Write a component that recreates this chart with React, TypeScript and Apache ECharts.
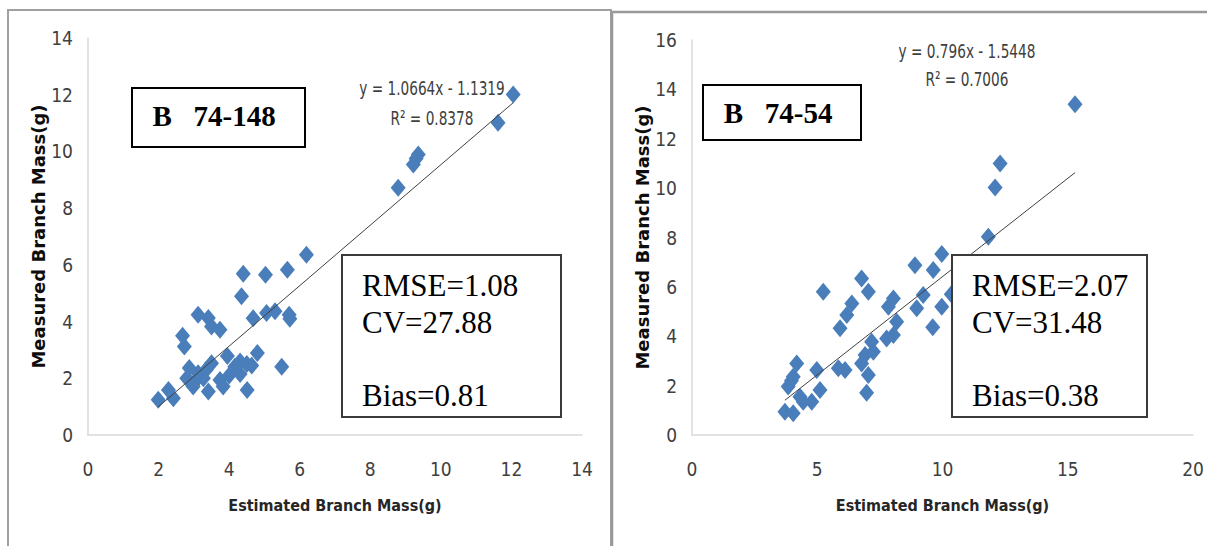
import { useEffect, useRef } from "react";
import * as echarts from "echarts";

// Left panel: B 74-148
const leftX = [1.99, 2.28, 2.42, 2.68, 2.73, 2.8, 2.87, 2.98, 3.05, 3.12, 3.12, 3.27, 3.35, 3.41, 3.41, 3.5, 3.5, 3.74, 3.74, 3.83, 3.95, 4.0, 4.16, 4.31, 4.31, 4.5, 4.64, 4.51, 4.35, 4.4, 4.68, 4.8, 5.03, 5.06, 5.3, 5.49, 5.65, 5.7, 5.72, 6.19, 8.79, 9.22, 9.3, 9.36, 11.62, 12.05];
const leftY = [1.24, 1.59, 1.3, 3.5, 3.12, 2.0, 2.36, 1.71, 1.9, 2.18, 4.24, 2.0, 2.3, 4.13, 1.53, 3.83, 2.53, 3.71, 1.94, 1.71, 2.79, 2.1, 2.41, 2.59, 2.15, 2.5, 2.45, 1.59, 4.89, 5.69, 4.12, 2.89, 5.65, 4.3, 4.36, 2.41, 5.83, 4.24, 4.1, 6.36, 8.72, 9.54, 9.75, 9.89, 11.01, 12.01];

// Right panel: B 74-54
const rightX = [3.71, 4.04, 3.84, 3.97, 4.04, 4.18, 4.31, 4.44, 4.78, 4.98, 5.11, 5.24, 5.84, 6.11, 5.91, 6.18, 6.38, 6.77, 7.04, 6.77, 6.91, 7.24, 7.17, 7.04, 6.97, 7.77, 8.04, 8.17, 7.84, 8.04, 8.97, 9.23, 8.9, 9.63, 9.97, 9.61, 9.97, 10.35, 11.83, 12.1, 12.3, 15.29];
const rightY = [0.94, 0.88, 1.96, 2.2, 2.36, 2.9, 1.55, 1.35, 1.35, 2.63, 1.82, 5.8, 2.7, 2.63, 4.32, 4.86, 5.33, 6.34, 5.8, 2.9, 3.24, 3.37, 3.78, 2.43, 1.71, 3.91, 4.05, 4.59, 5.19, 5.53, 5.13, 5.67, 6.88, 6.68, 7.33, 4.36, 5.19, 5.7, 8.03, 10.03, 11.0, 13.4];

// Trendline coefficients (from the chart's equations)
const leftSlope = 1.0664;
const leftIntercept = -1.1319;
const rightSlope = 0.796;
const rightIntercept = -1.5448;

const leftLabel = "B   74-148";
const rightLabel = "B   74-54";
const leftStats = ["RMSE=1.08", "CV=27.88", "Bias=0.81"];
const rightStats = ["RMSE=2.07", "CV=31.48", "Bias=0.38"];
const leftEq = ["y = 1.0664x - 1.1319", "R² = 0.8378"];
const rightEq = ["y = 0.796x - 1.5448", "R² = 0.7006"];
const xTitle = "Estimated Branch Mass(g)";
const yTitle = "Measured Branch Mass(g)";

const COND = '"DejaVu Sans Condensed", "Liberation Sans Narrow", sans-serif';
const SERIF = '"Liberation Serif", "Times New Roman", serif';
const MARKER = "#4A7EBB";

function zip(xs: number[], ys: number[]) {
  return xs.map((x, i) => [x, ys[i]]);
}
function trend(xs: number[], m: number, b: number) {
  const lo = Math.min(...xs);
  const hi = Math.max(...xs);
  return [
    [lo, m * lo + b],
    [hi, m * hi + b],
  ];
}

function axisX(gridIndex: number, max: number, interval: number) {
  return {
    type: "value",
    gridIndex,
    min: 0,
    max,
    interval,
    name: xTitle,
    nameLocation: "middle",
    nameGap: 62,
    nameTextStyle: { fontFamily: COND, fontWeight: "bold", fontSize: 16, color: "#262626" },
    axisLine: { show: true, lineStyle: { color: "#d9d9d9", width: 1.5 } },
    axisTick: { show: false },
    splitLine: { show: false },
    axisLabel: { fontFamily: COND, fontSize: 19, color: "#404040", margin: 24 },
  };
}
function axisY(gridIndex: number, max: number, interval: number) {
  return {
    type: "value",
    gridIndex,
    min: 0,
    max,
    interval,
    name: yTitle,
    nameLocation: "middle",
    nameGap: 39,
    nameTextStyle: { fontFamily: '"DejaVu Sans", sans-serif', fontWeight: "bold", fontSize: 18, color: "#0d0d0d" },
    axisLine: { show: true, lineStyle: { color: "#d9d9d9", width: 1.5 } },
    axisTick: { show: false },
    splitLine: { show: false },
    axisLabel: { fontFamily: COND, fontSize: 19, color: "#404040", margin: 15 },
  };
}

function statsBox(x: number, y: number, w: number, h: number, lines: string[]) {
  const tx = x + 20;
  return [
    { type: "rect", z: 100, shape: { x, y, width: w, height: h }, style: { fill: "#fff", stroke: "#3a3a3a", lineWidth: 2 } },
    { type: "text", z: 101, x: tx, y: y + 30, style: { text: lines[0], font: `31px ${SERIF}`, fill: "#000", verticalAlign: "middle" } },
    { type: "text", z: 101, x: tx, y: y + 67, style: { text: lines[1], font: `31px ${SERIF}`, fill: "#000", verticalAlign: "middle" } },
    { type: "text", z: 101, x: tx, y: y + 140, style: { text: lines[2], font: `31px ${SERIF}`, fill: "#000", verticalAlign: "middle" } },
  ];
}
function labelBox(x: number, y: number, w: number, h: number, text: string, cx: number, cy: number) {
  return [
    { type: "rect", z: 100, shape: { x, y, width: w, height: h }, style: { fill: "#fff", stroke: "#000", lineWidth: 2 } },
    { type: "text", z: 101, x: cx, y: cy, style: { text, font: `bold 29px ${SERIF}`, fill: "#000", align: "center", verticalAlign: "middle" } },
  ];
}
function eqText(cx: number, cy1: number, cy2: number, lines: string[]) {
  const font = `20px ${COND}`;
  return [
    { type: "text", z: 90, x: cx, y: cy1, scaleX: 0.76, style: { text: lines[0], font, fill: "#404040", align: "center", verticalAlign: "middle" } },
    { type: "text", z: 90, x: cx, y: cy2, scaleX: 0.76, style: { text: lines[1], font, fill: "#404040", align: "center", verticalAlign: "middle" } },
  ];
}

export default function App() {
  const ref = useRef<HTMLDivElement>(null);
  useEffect(() => {
    const chart = echarts.init(ref.current!, null, { renderer: "svg" });
    const option = {
      animation: false,
      backgroundColor: "#fff",
      grid: [
        { left: 88, top: 38, width: 494, height: 397 },
        { left: 692, top: 40, width: 501, height: 395 },
      ],
      xAxis: [axisX(0, 14, 2), axisX(1, 20, 5)],
      yAxis: [axisY(0, 14, 2), axisY(1, 16, 2)],
      series: [
        {
          type: "scatter",
          xAxisIndex: 0,
          yAxisIndex: 0,
          data: zip(leftX, leftY),
          symbol: "diamond",
          symbolSize: [15, 18],
          itemStyle: { color: MARKER, opacity: 1 },
          z: 3,
        },
        {
          type: "line",
          xAxisIndex: 0,
          yAxisIndex: 0,
          data: trend(leftX, leftSlope, leftIntercept),
          symbol: "none",
          lineStyle: { color: "#404040", width: 1 },
          z: 4,
        },
        {
          type: "scatter",
          xAxisIndex: 1,
          yAxisIndex: 1,
          data: zip(rightX, rightY),
          symbol: "diamond",
          symbolSize: [15, 18],
          itemStyle: { color: MARKER, opacity: 1 },
          z: 3,
        },
        {
          type: "line",
          xAxisIndex: 1,
          yAxisIndex: 1,
          data: trend(rightX, rightSlope, rightIntercept),
          symbol: "none",
          lineStyle: { color: "#404040", width: 1 },
          z: 4,
        },
      ],
      graphic: [
        { type: "rect", z: 50, shape: { x: 8, y: 10, width: 603, height: 600 }, style: { fill: "none", stroke: "#a0a0a0", lineWidth: 2 } },
        { type: "rect", z: 50, shape: { x: 612, y: 12, width: 640, height: 600 }, style: { fill: "none", stroke: "#999", lineWidth: 2.5 } },
        ...labelBox(132, 88, 173, 59, leftLabel, 214, 116),
        ...labelBox(703, 85, 158, 55, rightLabel, 778, 113),
        ...statsBox(342, 255, 219, 162, leftStats),
        ...statsBox(952, 255, 195, 162, rightStats),
        ...eqText(432, 88, 118, leftEq),
        ...eqText(967, 51, 79, rightEq),
      ],
    };
    chart.setOption(option as any);
    return () => chart.dispose();
  }, []);
  return (
    <div
      ref={ref}
      style={{ position: "fixed", left: 0, top: 0, width: 1207, height: 546, background: "#fff" }}
    />
  );
}
